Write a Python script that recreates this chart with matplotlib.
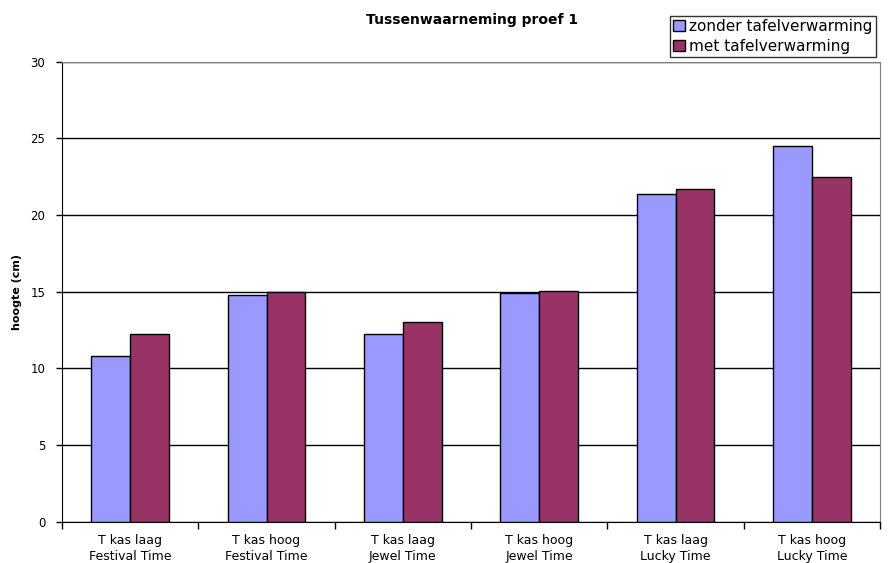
import matplotlib
matplotlib.use('Agg')
import matplotlib.pyplot as plt
import numpy as np

plt.rcParams['font.family'] = ['DejaVu Sans']

categories = [
    'T kas laag\nFestival Time',
    'T kas hoog\nFestival Time',
    'T kas laag\nJewel Time',
    'T kas hoog\nJewel Time',
    'T kas laag\nLucky Time',
    'T kas hoog\nLucky Time',
]
zonder = [10.83, 14.81, 12.26, 14.90, 21.37, 24.53]
met = [12.22, 14.96, 13.02, 15.07, 21.70, 22.50]
series_names = ['zonder tafelverwarming', 'met tafelverwarming']
colors = ['#9999FF', '#993366']

fig = plt.figure(figsize=(8.9, 5.63), dpi=100)
ax = fig.add_axes([62 / 890, 1 - 521.7 / 563, 818 / 890, 460 / 563])

x = np.arange(len(categories))
width = 0.286
ax.bar(x - width / 2, zonder, width, color=colors[0], edgecolor='black',
       linewidth=1, label=series_names[0], zorder=3)
ax.bar(x + width / 2, met, width, color=colors[1], edgecolor='black',
       linewidth=1, label=series_names[1], zorder=3)

ax.set_xlim(-0.5, len(categories) - 0.5)
ax.set_ylim(0, 30)
ax.set_yticks(range(0, 31, 5))
ax.yaxis.grid(True, color='black', linewidth=1, zorder=0)

# tick marks between categories, labels centered
ax.set_xticks(x)
ax.set_xticklabels(categories, fontsize=9)
ax.tick_params(axis='x', which='major', length=0, pad=9)
ax.set_xticks(np.arange(-0.5, len(categories), 1), minor=True)
ax.tick_params(axis='x', which='minor', length=5, width=1, direction='out')
ax.tick_params(axis='y', length=4, width=1, direction='out', labelsize=8.5, pad=8)
for lbl in ax.get_xticklabels():
    lbl.set_linespacing(1.25)

for s in ['top', 'right']:
    ax.spines[s].set_color('#808080')
ax.spines['left'].set_color('black')
ax.spines['bottom'].set_color('black')

ax.set_ylabel('hoogte (cm)', fontsize=8, fontweight='bold', labelpad=6)
fig.text(472 / 890, 1 - 20 / 563, 'Tussenwaarneming proef 1', ha='center',
         va='center', fontsize=10, fontweight='bold')

leg = fig.legend(loc='upper left', bbox_to_anchor=(670 / 890, 1 - 16 / 563),
                 fontsize=11, frameon=True, fancybox=False, handlelength=0.75,
                 handleheight=0.75, handletextpad=0.3, borderpad=0.2,
                 labelspacing=0.3, borderaxespad=0)
leg.get_frame().set_edgecolor('black')
leg.get_frame().set_linewidth(1)

fig.savefig('out.png', dpi=100)
